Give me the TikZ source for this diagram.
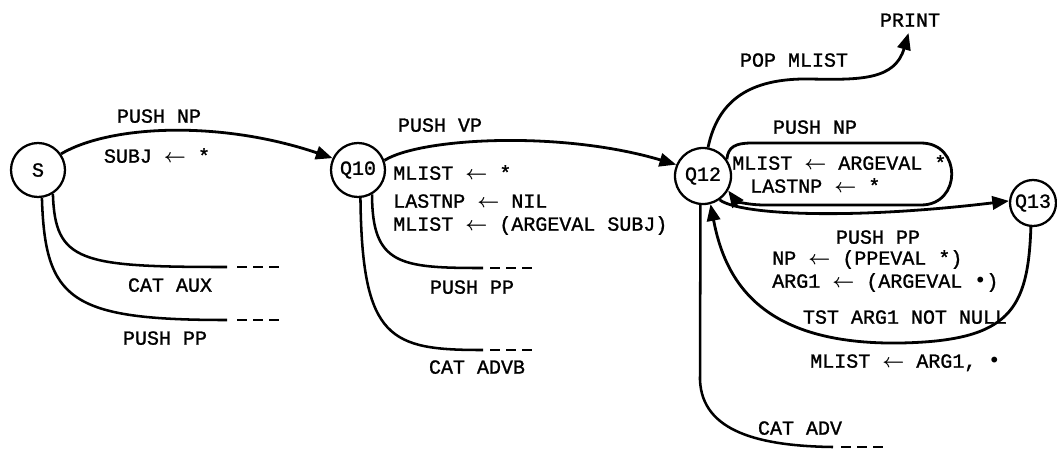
\documentclass[tikz,border=0pt]{standalone}
\usepackage{amsmath}
\usepackage{fontspec}
\setmonofont[FakeBold=1.2]{Liberation Mono}
\newfontfamily\arrfont{DejaVu Sans Mono}
\usetikzlibrary{arrows.meta}
\newcommand{\lar}{\mbox{$\boldsymbol{\leftarrow}$}}
\newcommand{\bul}{{\arrfont •}}
\tikzset{
	st/.style={draw, circle, line width=1.7pt, inner sep=0pt, minimum size=40.5pt, font=\fontsize{15}{18}\ttfamily},
	link/.style={line width=2.1pt, -{Triangle[length=12.5pt,width=10pt]}},
	tail/.style={line width=1.9pt},
	dashtail/.style={line width=1.9pt, dash pattern=on 7.5pt off 4.5pt},
	lbl/.style={inner sep=0.75pt, font=\fontsize{15}{18}\ttfamily, text height=10pt, text depth=0pt},
}
\begin{document}
\begin{tikzpicture}[x=0.75pt,y=0.75pt,yscale=-1,xscale=1]
		\useasboundingbox (0,0) rectangle (1057,451);
		
		%States
		\node[st] (S) at (38,170) {S};
		\node[st] (Q10) at (358,170) {Q10};
		\node[st, minimum size=42pt] (Q12) at (703,176) {Q12};
		\node[st, minimum size=34.5pt] (Q13) at (1033,203) {Q13};
		\node[lbl] (print) at (910,20) {PRINT};
		
		%Curve Lines
		\draw[link] (S.35) .. controls (110,125) and (220,120) .. (Q10.155);
		%Curve Lines
		\draw[link] (Q10.20) .. controls (420,138) and (560,130) .. (Q12.157);
		%Curve Lines
		\draw[link, shorten >=4pt] (Q12.80) .. controls (718,100) and (750,78) .. (810,79) .. controls (860,80) and (895,80) .. (print.south);
		%Curve Lines
		\draw[link] (Q12.35) .. controls (728,147) and (735,143) .. (752,143) -- (921,143) .. controls (962,143) and (962,205) .. (921,205) -- (765,205) .. controls (745,205) and (735,200) .. (Q12.-30);
		%Curve Lines
		\draw[link] (Q12.-55) .. controls (740,215) and (850,220) .. (Q13.175);
		%Curve Lines
		\draw[link] (Q13.-95) .. controls (1028,310) and (1010,341) .. (900,343) .. controls (760,345) and (725,280) .. (Q12.-75);
		
		%Open ends
		\coordinate (auxend) at (227,267);
		\coordinate (ppend) at (227,320);
		\coordinate (qppend) at (483,268);
		\coordinate (advbend) at (483,350);
		\coordinate (advend) at (833,447);
		\draw[tail] (S.-58) .. controls (55,262) and (80,267) .. (auxend);
		\draw[dashtail] (auxend) ++(10,0) -- ++(43,0);
		\draw[tail] (S.-82) .. controls (45,300) and (70,320) .. (ppend);
		\draw[dashtail] (ppend) ++(10,0) -- ++(43,0);
		\draw[tail] (Q10.-60) .. controls (372,265) and (400,268) .. (qppend);
		\draw[dashtail] (qppend) ++(7,0) -- ++(43,0);
		\draw[tail] (Q10.-85) .. controls (362,340) and (390,350) .. (advbend);
		\draw[dashtail] (advbend) ++(7,0) -- ++(43,0);
		\draw[tail] (Q12.-95) -- (700,380) .. controls (702,432) and (760,446) .. (advend);
		\draw[dashtail] (advend) ++(8,0) -- ++(43,0);
		
		% Text Node
		\node[lbl] (snp) at (159,116) {PUSH NP};
		\node[lbl] (ssubj) at (157,156) {SUBJ \lar{} *};
		\node[lbl] (saux) at (170,285) {CAT AUX};
		\node[lbl] (spp) at (165,338) {PUSH PP};
		% Text Node
		\node[lbl] (qvp) at (440,125) {PUSH VP};
		\node[lbl, anchor=west] (qa) at (392,173) {MLIST \lar{} *};
		\node[lbl, anchor=west] (qb) at (392,201) {LASTNP \lar{} NIL};
		\node[lbl, anchor=west] (qc) at (392,224) {MLIST \lar{} (ARGEVAL SUBJ)};
		\node[lbl] (qpp) at (472,287) {PUSH PP};
		\node[lbl] (qadvb) at (477,367) {CAT ADVB};
		% Text Node
		\node[lbl] (rpop) at (794,60) {POP MLIST};
		\node[lbl] (rnp) at (815,127) {PUSH NP};
		\node[lbl, anchor=west] (ra) at (731,163) {MLIST \lar{} ARGEVAL *};
		\node[lbl, anchor=west] (rb) at (749,186) {LASTNP \lar{} *};
		\node[lbl] (rpp) at (878,237) {PUSH PP};
		\node[lbl, anchor=west] (rc) at (771,258) {NP \lar{} (PPEVAL *)};
		\node[lbl, anchor=west] (rd) at (771,281) {ARG1 \lar{} (ARGEVAL \bul)};
		\node[lbl] (rtst) at (905,317) {TST ARG1 NOT NULL};
		\node[lbl, anchor=west] (re) at (809,361) {MLIST \lar{} ARG1, \bul};
		\node[lbl] (radv) at (800,428) {CAT ADV};
	\end{tikzpicture}
\end{document}
